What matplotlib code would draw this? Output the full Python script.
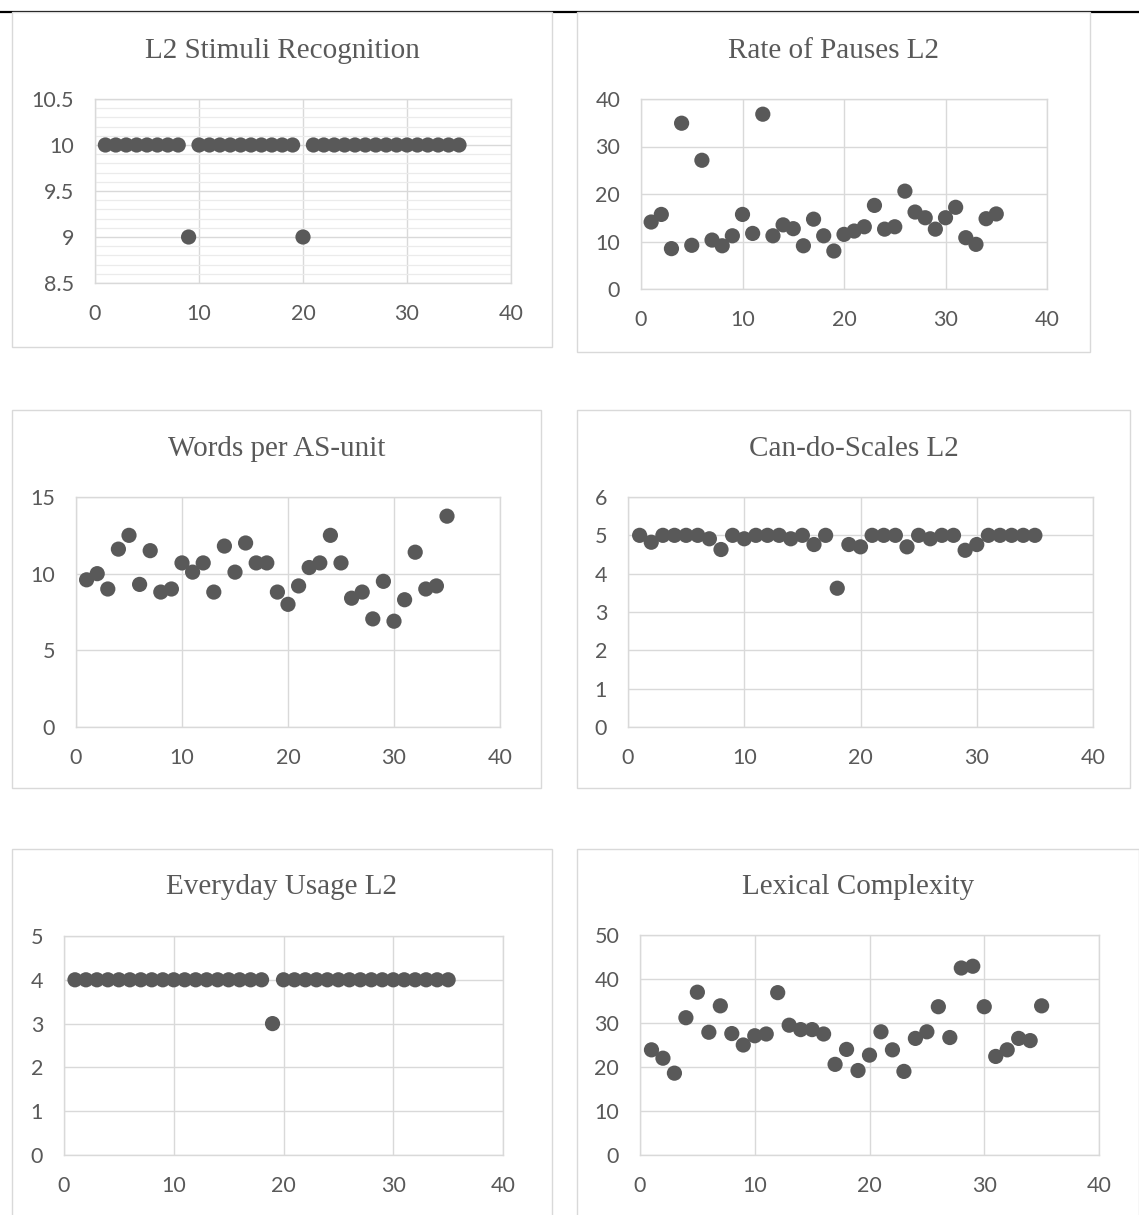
import matplotlib
matplotlib.use('Agg')
import matplotlib.pyplot as plt
from matplotlib.patches import Rectangle
from matplotlib.lines import Line2D

W, H, DPI = 1139, 1215, 100
DOT = '#595959'
GRID = '#d9d9d9'
TEXT = '#595959'

participants = list(range(1, 36))

stimuli_recognition = [10, 10, 10, 10, 10, 10, 10, 10, 9, 10, 10, 10, 10, 10, 10, 10, 10, 10, 10, 9,
                       10, 10, 10, 10, 10, 10, 10, 10, 10, 10, 10, 10, 10, 10, 10]
pause_rate = [14.1, 15.7, 8.5, 34.9, 9.2, 27.1, 10.3, 9.1, 11.2, 15.7, 11.7, 36.8, 11.2, 13.5, 12.7,
              9.1, 14.7, 11.2, 8.0, 11.5, 12.2, 13.1, 17.6, 12.6, 13.1, 20.6, 16.2, 15.0, 12.6, 15.0,
              17.2, 10.8, 9.4, 14.8, 15.8]
words_per_as = [9.6, 10.0, 9.0, 11.6, 12.5, 9.3, 11.5, 8.8, 9.0, 10.7, 10.1, 10.7, 8.8, 11.8, 10.1,
                12.0, 10.7, 10.7, 8.8, 8.0, 9.2, 10.4, 10.7, 12.5, 10.7, 8.4, 8.8, 7.05, 9.5, 6.9,
                8.3, 11.4, 9.0, 9.2, 13.75]
can_do = [5.0, 4.82, 5.0, 5.0, 5.0, 5.0, 4.91, 4.63, 5.0, 4.91, 5.0, 5.0, 5.0, 4.91, 5.0, 4.76,
          5.0, 3.62, 4.76, 4.70, 5.0, 5.0, 5.0, 4.70, 5.0, 4.91, 5.0, 5.0, 4.61, 4.76, 5.0, 5.0,
          5.0, 5.0, 5.0]
everyday_usage = [4, 4, 4, 4, 4, 4, 4, 4, 4, 4, 4, 4, 4, 4, 4, 4, 4, 4, 3, 4, 4, 4, 4, 4, 4, 4,
                  4, 4, 4, 4, 4, 4, 4, 4, 4]
lexical_complexity = [23.9, 22.0, 18.6, 31.2, 37.0, 27.9, 33.9, 27.6, 25.0, 27.1, 27.5, 36.9, 29.5,
                      28.5, 28.5, 27.5, 20.6, 24.0, 19.2, 22.7, 28.0, 23.9, 19.0, 26.5, 28.0, 33.7,
                      26.7, 42.5, 42.9, 33.7, 22.4, 23.9, 26.5, 26.0, 33.9]

titles = ['L2 Stimuli Recognition', 'Rate of Pauses L2', 'Words per AS-unit',
          'Can-do-Scales L2', 'Everyday Usage L2', 'Lexical Complexity']
series = [stimuli_recognition, pause_rate, words_per_as, can_do, everyday_usage, lexical_complexity]
y_ranges = [(8.5, 10.5, 0.5), (0, 40, 10), (0, 15, 5), (0, 6, 1), (0, 5, 1), (0, 50, 10)]

# pixel layout: chart box (l, t, r, b), plot area (l, t, r, b), title centre y
boxes = [(12, 12, 552, 347), (577, 12, 1090, 352),
         (12, 410, 541, 788), (577, 410, 1130, 788),
         (12, 849, 552, 1230), (577, 849, 1139, 1230)]
plot_areas = [(95, 99, 511, 283), (641, 99, 1047, 289),
              (76, 497, 500, 727), (628, 497, 1093, 727),
              (64, 936, 503, 1155), (640, 935, 1099, 1155)]
title_y = [51, 51, 449, 449, 887, 887]

fig = plt.figure(figsize=(W / DPI, H / DPI), dpi=DPI)
fig.patch.set_facecolor('white')


def fx(px):
    return px / W


def fy(py):
    return 1 - py / H


# black rule across the top of the page
fig.add_artist(Line2D([0, 1], [fy(11.5), fy(11.5)], color='black', lw=1.6, zorder=-2))

for i in range(6):
    bl, bt, br, bb = boxes[i]
    fig.add_artist(Rectangle((fx(bl), fy(bb)), fx(br - bl), (bb - bt) / H,
                             facecolor='white', edgecolor=GRID, lw=1.0, zorder=-1))

    pl, pt, pr, pb = plot_areas[i]
    ax = fig.add_axes([fx(pl), fy(pb), fx(pr - pl), (pb - pt) / H])
    ax.set_facecolor('none')
    lo, hi, step = y_ranges[i]
    ax.set_xlim(0, 40)
    ax.set_ylim(lo, hi)
    ax.set_xticks([0, 10, 20, 30, 40])
    yt = [lo + k * step for k in range(int(round((hi - lo) / step)) + 1)]
    ax.set_yticks(yt)
    ax.set_yticklabels([f'{v:g}' for v in yt])
    if i == 0:
        ax.set_yticks([lo + k * 0.1 for k in range(21)], minor=True)
        ax.grid(True, which='minor', axis='y', color='#ebebeb', lw=0.9)
    ax.grid(True, which='major', color=GRID, lw=1.0)
    ax.set_axisbelow(True)
    for s in ax.spines.values():
        s.set_color(GRID)
        s.set_linewidth(1.0)
    ax.tick_params(which='both', length=0, labelsize=15.5, labelcolor=TEXT)
    ax.tick_params(axis='y', pad=15)
    ax.tick_params(axis='x', pad=15)
    for lab in ax.get_xticklabels() + ax.get_yticklabels():
        lab.set_fontfamily('Lato')

    ax.scatter(participants, series[i], s=120, color=DOT, edgecolors='none', zorder=3, clip_on=False)

    fig.text(fx((bl + br) / 2), fy(title_y[i]), titles[i], ha='center', va='center',
             fontsize=21, color=TEXT, fontfamily='Liberation Serif')

fig.savefig('out.png', dpi=DPI)
